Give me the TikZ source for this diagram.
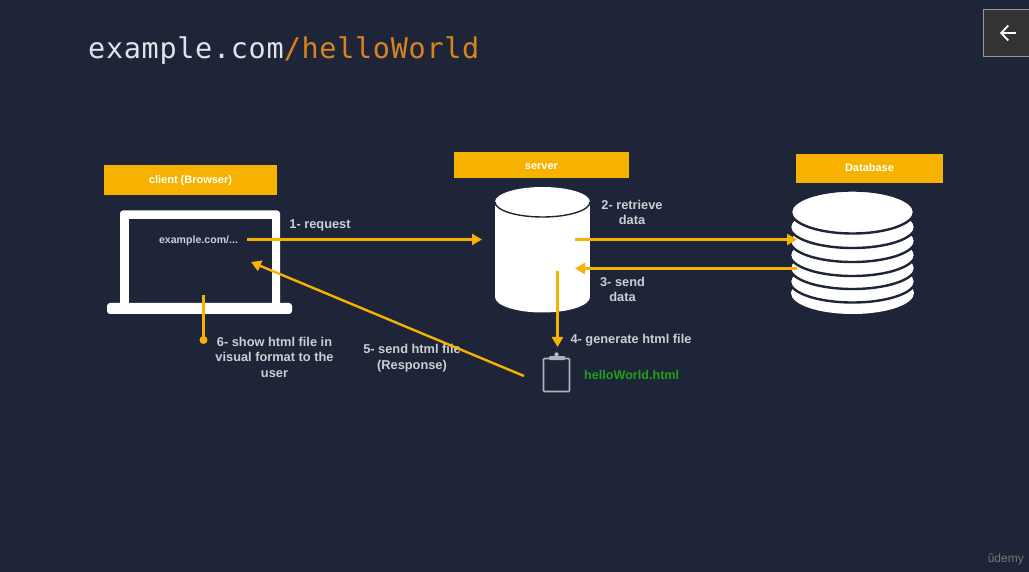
\documentclass[tikz,border=0pt]{standalone}
\usepackage{fontspec}
\setmainfont{Liberation Sans}
\newfontfamily\titlefont[LetterSpace=2.4]{DejaVu Sans Mono}
\usetikzlibrary{arrows.meta, positioning}
\definecolor{slidebg}{RGB}{30, 37, 56}
\definecolor{popamber}{RGB}{247, 178, 0}
\definecolor{titleorange}{RGB}{217, 130, 32}
\definecolor{titlegrey}{RGB}{222, 226, 234}
\definecolor{labelgrey}{RGB}{204, 206, 212}
\definecolor{filegreen}{RGB}{30, 160, 26}
\definecolor{clipgrey}{RGB}{176, 180, 186}
\tikzset{
  tagbox/.style={fill=popamber, text=white, inner sep=0pt, text depth=0pt, font=\fontsize{11}{13}\bfseries\selectfont},
  steplabel/.style={text=labelgrey, align=center, inner sep=0pt, font=\fontsize{12.8}{15.5}\bfseries\selectfont},
  flow/.style={draw=popamber, line width=2.4pt, -{Triangle[length=10pt,width=11pt]}},
}

\begin{document}
\begin{tikzpicture}[x=1pt, y=-1pt]
  \useasboundingbox (0,0) rectangle (1029,572);
  \fill[slidebg] (0,0) rectangle (1029,572);

  % title and player furniture
  \node[anchor=base west, inner sep=0pt, font=\titlefont\fontsize{28.5}{30}\selectfont, text=titlegrey] (title) at (88,59)
    {example.com\textcolor{titleorange}{/helloWorld}};
  \node[draw=gray!80, fill=black!80, line width=0.8pt, minimum width=48pt, minimum height=47pt, inner sep=0pt] (back) at (1007,33) {};
  \draw[white, line width=1.8pt, -{Straight Barb[length=7pt,width=15pt]}] (1016,33) -- (1000,33);
  \node[anchor=east, inner sep=0pt, text=gray!90!slidebg, font=\fontsize{12}{14}\selectfont] (brand) at (1024,559.5) {ûdemy};

  % headers
  \node[tagbox, text height=8pt, minimum width=173pt, minimum height=30pt] (client) at (190.5,180) {client (Browser)};
  \node[tagbox, text height=10pt, minimum width=175pt, minimum height=26pt] (server) at (541.5,165) {server};
  \node[tagbox, text height=7pt, minimum width=147pt, minimum height=29pt] (database) at (869.5,168.5) {Database};

  % laptop
  \fill[white, rounded corners=3pt] (120,210.5) rectangle (280,306);
  \fill[slidebg] (129,219) rectangle (272,303);
  \fill[white, rounded corners=3pt] (107,303) rectangle (292,314);

  % server cylinder
  \fill[white] (495,202) rectangle (590,297);
  \fill[white] (542.5,297) ellipse [x radius=47.5, y radius=15.5];
  \fill[white] (542.5,202) ellipse [x radius=47.5, y radius=15];
  \draw[slidebg, line width=1.4pt] (495,202) arc [start angle=180, end angle=0, x radius=47.5, y radius=15];

  % database discs
  \fill[white] (852.5,293) ellipse [x radius=61.5, y radius=21];
  \foreach \discy in {281.5,268,255,241,227} {
    \draw[fill=white, draw=slidebg, line width=2.4pt] (852.5,\discy) ellipse [x radius=62.5, y radius=21];
  }
  \draw[fill=white, draw=slidebg, line width=2.4pt] (852.5,212) ellipse [x radius=61.5, y radius=21.5];

  % clipboard
  \node[draw=clipgrey, line width=1.6pt, rounded corners=1pt, minimum width=26pt, minimum height=33pt, inner sep=0pt] (clipboard) at (556.5,375) {};
  \fill[clipgrey, rounded corners=1pt] (549,356) rectangle (565,360);
  \fill[clipgrey] (556.5,354.5) circle (2.2pt);

  % texts
  \node[text=labelgrey, inner sep=0pt, font=\fontsize{10.6}{13}\bfseries\selectfont] (url) at (198.5,240.5) {example.com/...};
  \node[steplabel] (request) at (320,225.5) {1- request};
  \node[steplabel] (retrieve) at (632,212.5) {2- retrieve\\data};
  \node[steplabel] (senddata) at (622.5,289.5) {3- send\\data};
  \node[steplabel] (generate) at (631,340.5) {4- generate html file};
  \node[steplabel] (response) at (412,358) {5- send html file\\(Response)};
  \node[steplabel] (show) at (274.5,357) {6- show html file in\\visual format to the\\user};
  \node[anchor=west, inner sep=0pt, text=filegreen, font=\fontsize{12.6}{15}\bfseries\selectfont] (htmlname) at (584,374.5) {helloWorld.html};

  % connector ends
  \coordinate (urlout) at (247,239.5);
  \coordinate (serverin) at (482,239.5);
  \coordinate (serverout) at (575,239.5);
  \coordinate (dbin) at (797,239.5);
  \coordinate (dbout) at (797,268.5);
  \coordinate (serverback) at (575,268.5);
  \coordinate (genstart) at (557.5,271);
  \coordinate (genend) at (557.5,347);
  \coordinate (fileout) at (524,376);
  \coordinate (urlin) at (251,262);
  \coordinate (viewstart) at (203.5,295);
  \coordinate (viewdot) at (203.5,340);

  \draw[flow] (urlout) -- (serverin);
  \draw[flow] (serverout) -- (dbin);
  \draw[flow] (dbout) -- (serverback);
  \draw[flow] (genstart) -- (genend);
  \draw[flow] (fileout) -- (urlin);
  \draw[draw=popamber, line width=2.4pt] (viewstart) -- (viewdot);
  \fill[popamber] (viewdot) circle (4pt);
\end{tikzpicture}
\end{document}
